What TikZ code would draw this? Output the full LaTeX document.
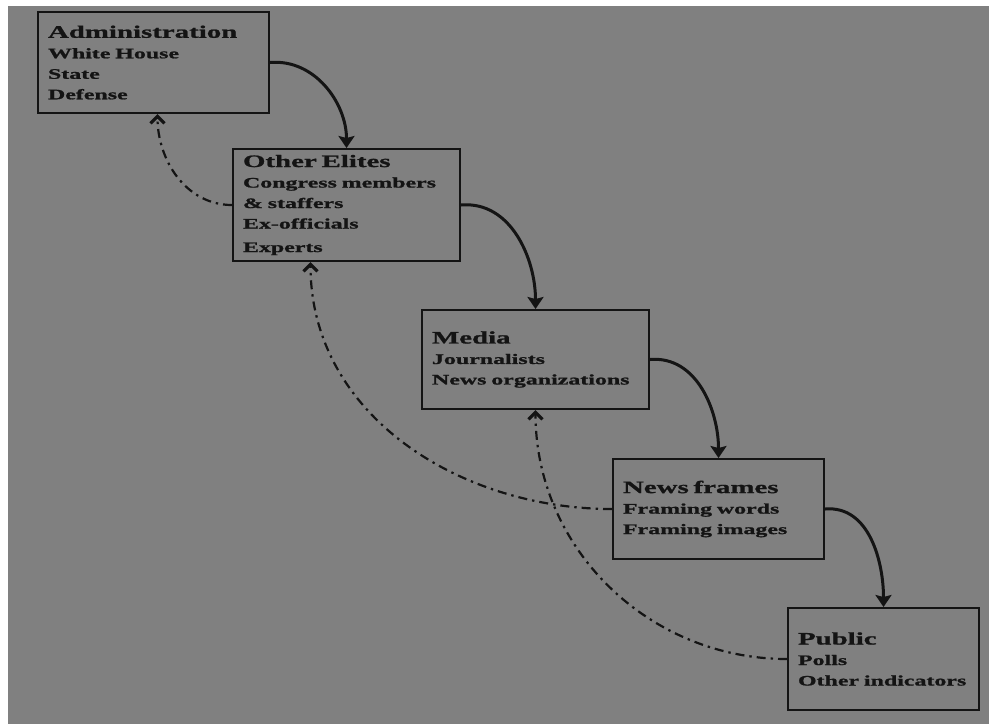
\documentclass[tikz,border=0pt]{standalone}
\usepackage{fontspec}
\setmainfont[FakeStretch=1.65, BoldFeatures={FakeBold=1.2}]{Liberation Serif}
\usepackage{tikz}
\usepackage{xcolor}
\usetikzlibrary{arrows.meta}
\definecolor{paper}{HTML}{808080}
\definecolor{ink}{HTML}{141414}
\tikzstyle{box}=[draw=ink, text=ink, line width=1pt, anchor=north west, align=left,
		inner xsep=5pt, inner ysep=0pt,
		font=\bfseries\fontsize{7.25}{10.25}\selectfont]
\tikzstyle{fw}=[draw=ink, line width=1.5pt, -{Stealth[length=6pt,width=8pt,inset=1pt]}]
\tikzstyle{fb}=[draw=ink, line width=1.1pt, dash pattern=on 4.5pt off 2.5pt on 1.2pt off 2.5pt,
		-{Straight Barb[length=3.5pt,width=7pt,line width=1.6pt]}]
\newcommand{\hd}[1]{{\fontsize{8.75}{10.5}\selectfont #1}}

\begin{document}
\begin{tikzpicture}[x=0.5pt, y=-0.5pt]
        \useasboundingbox (0,0) rectangle (989,724);
        \fill[white] (0,0) rectangle (989,724);
        \fill[paper] (8,6) rectangle (989,724);

        \node[box, text width=105.5pt, minimum height=50.5pt] (admin) at (37,11)
            {\hd{Administration}\\White House\\State\\Defense};
        \node[box, text width=103.5pt, minimum height=56pt] (elites) at (232,148)
            {\hd{Other Elites}\\Congress members\\\& staffers\\Ex-officials\\[1.5pt]Experts};
        \node[box, text width=103.5pt, minimum height=49.5pt] (media) at (421,309)
            {\hd{Media}\\Journalists\\News organizations};
        \node[box, text width=95.5pt, minimum height=50pt] (frames) at (612,458)
            {\hd{News frames}\\Framing words\\Framing images};
        \node[box, text width=85.5pt, minimum height=51pt] (public) at (787,607)
            {\hd{Public}\\Polls\\Other indicators};

        \draw[fw] (admin.east) to[out=5, in=90] (elites.north);
        \draw[fw] (elites.east) to[out=5, in=90] (media.north);
        \draw[fw] (media.east) to[out=5, in=90] (frames.north);
        \draw[fw] (frames.east) to[out=5, in=90] (public.north);

        \draw[fb] (elites.west) to[out=180, in=-90] ([xshift=2pt]admin.south);
        \draw[fb] (frames.west) to[out=180, in=-90] ([xshift=-18pt]elites.south);
        \draw[fb] (public.west) to[out=180, in=-90] (media.south);
\end{tikzpicture}
\end{document}
